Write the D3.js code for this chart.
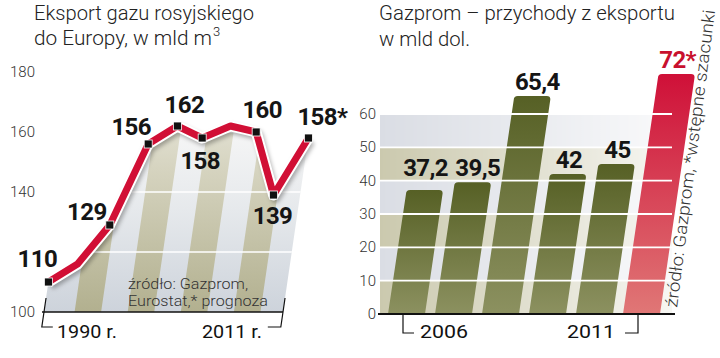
<!DOCTYPE html>
<html><head><meta charset="utf-8">
<script src="https://cdn.jsdelivr.net/npm/d3@7"></script>
<style>
html,body{margin:0;padding:0;background:#fff;}
svg{display:block;}
text{font-family:Roboto,"Noto Sans",sans-serif;}
</style></head><body>
<svg id="chart" width="720" height="358"></svg>
<script>
// ---------- Left chart: gas export to Europe (bn m3) ----------
const exportSlots  = ["1990","1995","2000","2005","2006","2007","2008","2009","2010","2011"];
const exportValues = [110, 116, 129, 156, 162, 158, 162, 160, 139, 158];
const exportLabels = ["110", null, "129", "156", "162", "158", null, "160", "139", "158*"];
const exportTickLabels = [100, 140, 160, 180];
const exportGridValues = [120, 140, 160];
const exportRangeLabels = ["1990 r.", "2011 r."];
const exportTitle = ["Eksport gazu rosyjskiego", "do Europy, w mld m"];
const exportSource = ["źródło: Gazprom,", "Eurostat,* prognoza"];

// ---------- Right chart: Gazprom export revenue (bn USD) ----------
const revenueYears  = ["2006","2007","2008","2009","2010","2011"];
const revenueValues = [37.2, 39.5, 65.4, 42, 45, 72];
const revenueLabels = ["37,2","39,5","65,4","42","45","72*"];
const revenueEstimate = [false,false,false,false,false,true];
const revenueTicks  = [0,10,20,30,40,50,60];
const revenueRangeLabels = ["2006","2011"];
const revenueTitle = ["Gazprom – przychody z eksportu", "w mld dol."];
const revenueSource = "źródło: Gazprom, *wstępne szacunki";

const svg = d3.select("#chart");
const defs = svg.append("defs");
const K = 0.146; // perspective skew

function lg(id, stops, x2, y2){
  const g = defs.append("linearGradient").attr("id", id)
    .attr("x1",0).attr("y1",0).attr("x2",x2).attr("y2",y2);
  stops.forEach(s => g.append("stop").attr("offset", s[0]).attr("stop-color", s[1]).attr("stop-opacity", s[2]==null?1:s[2]));
}
lg("areaGrad", [[0,"#f6f6f6"],[0.45,"#e6e9ec"],[1,"#cdd3db"]], 0, 1);
lg("stripeGrad", [[0,"#efeee6"],[0.4,"#d6d4c0"],[1,"#b2b08f"]], 0, 1);
lg("barGrad", [[0,"#566025"],[1,"#8c9160"]], 0, 1);
lg("redGrad", [[0,"#cf1038"],[1,"#e07776"]], 0, 1);
lg("fadeGrad", [[0,"#fff",1],[0.55,"#fff",0.55],[1,"#fff",0.15]], 1, 0);

const shadow = defs.append("filter").attr("id","shadow").attr("x","-10%").attr("y","-10%").attr("width","130%").attr("height","140%");
shadow.append("feGaussianBlur").attr("stdDeviation", 2.2);

// ================= LEFT =================
const xL = d3.scalePoint().domain(exportSlots).range([44, 283]);
const yL = d3.scaleLinear().domain([100, 180]).range([312, 72]);
const baseL = yL(100);
const sxL = (slot, v) => xL(slot) + K * (baseL - yL(v));

const pts = exportSlots.map((s, i) => ({slot: s, v: exportValues[i], label: exportLabels[i],
  x: sxL(s, exportValues[i]), y: yL(exportValues[i])}));

const lineGen = d3.line().x(d => d.x).y(d => d.y).curve(d3.curveLinear);
const first = exportSlots[0], last = exportSlots[exportSlots.length - 1];
const areaPath = lineGen(pts) + `L${xL(last)},${baseL}L${xL(first)},${baseL}Z`;

const cp = defs.append("clipPath").attr("id", "areaClip");
cp.append("path").attr("d", areaPath);

const gL = svg.append("g");
gL.append("path").attr("d", areaPath).attr("fill", "url(#areaGrad)");

// slanted stripes
const stripes = gL.append("g").attr("clip-path", "url(#areaClip)");
const step = xL.step();
const stripeIdx = [1, 3, 5, 7];
stripes.selectAll("path").data(stripeIdx).join("path")
  .attr("d", i => {
    const x0 = xL(exportSlots[i]) + 4, x1 = x0 + step, top = yL(180), h = baseL - top;
    return `M${x0},${baseL}L${x1},${baseL}L${x1 + K*h},${top}L${x0 + K*h},${top}Z`;
  })
  .attr("fill", "url(#stripeGrad)");

// gridlines
stripes.selectAll("line").data(exportGridValues).join("line")
  .attr("x1", 30).attr("x2", 320)
  .attr("y1", d => yL(d)).attr("y2", d => yL(d))
  .attr("stroke", "#fff").attr("stroke-width", 1.6);

// y tick labels
gL.selectAll("text.ytick").data(exportTickLabels).join("text")
  .attr("class", "ytick")
  .attr("x", 35).attr("y", d => yL(d) + 5)
  .attr("text-anchor", "end")
  .attr("font-size", 15).attr("font-weight", 300).attr("fill", "#333")
  .text(d => d);

// baseline
gL.append("line").attr("x1", xL(first) - 2).attr("x2", xL(last))
  .attr("y1", baseL).attr("y2", baseL).attr("stroke", "#111").attr("stroke-width", 1.6);

// brackets
const bY0 = baseL - 14, bY1 = baseL + 15;
const bx = (slot, y) => xL(slot) + K * (baseL - y);
gL.append("path")
  .attr("d", `M${bx(first,bY0)},${bY0}L${bx(first,bY1)},${bY1}L${bx(first,bY1)+11},${bY1}`)
  .attr("fill", "none").attr("stroke", "#111").attr("stroke-width", 1.2);
gL.append("path")
  .attr("d", `M${bx(last,bY0)},${bY0}L${bx(last,bY1)},${bY1}L${bx(last,bY1)-13},${bY1}`)
  .attr("fill", "none").attr("stroke", "#111").attr("stroke-width", 1.2);
gL.append("text").attr("x", 57).attr("y", 338).attr("font-size", 19).attr("fill", "#111")
  .attr("textLength", 60).attr("lengthAdjust", "spacingAndGlyphs").text(exportRangeLabels[0]);
gL.append("text").attr("x", 202).attr("y", 338).attr("font-size", 19).attr("fill", "#111")
  .attr("textLength", 60).attr("lengthAdjust", "spacingAndGlyphs").text(exportRangeLabels[1]);

// source
gL.append("text").attr("x", 128).attr("y", 289).attr("font-size", 15).attr("font-weight", 300).attr("fill", "#333")
  .attr("textLength", 120).attr("lengthAdjust", "spacingAndGlyphs").text(exportSource[0]);
gL.append("text").attr("x", 128).attr("y", 306).attr("font-size", 15).attr("font-weight", 300).attr("fill", "#333")
  .attr("textLength", 140).attr("lengthAdjust", "spacingAndGlyphs").text(exportSource[1]);

// line with shadow, white halo and red core
const ld = lineGen(pts);
gL.append("path").attr("d", ld).attr("fill", "none").attr("stroke", "#000").attr("stroke-opacity", 0.3)
  .attr("stroke-width", 10).attr("stroke-linejoin", "round").attr("transform", "translate(2,3)").attr("filter", "url(#shadow)");
gL.append("path").attr("d", ld).attr("fill", "none").attr("stroke", "#fff").attr("stroke-width", 11).attr("stroke-linejoin", "round");
gL.append("path").attr("d", ld).attr("fill", "none").attr("stroke", "#d10f35").attr("stroke-width", 7).attr("stroke-linejoin", "round");

// markers
const marked = pts.filter(d => d.label);
gL.selectAll("rect.mk").data(marked).join("rect").attr("class", "mk")
  .attr("x", d => d.x - 4).attr("y", d => d.y - 4).attr("width", 8).attr("height", 8)
  .attr("fill", "#111").attr("stroke", "#fff").attr("stroke-width", 0.8);

// value labels (placement per point)
const place = {"110":[-11,-15,"middle"], "129":[-23,-5,"middle"], "156":[-17,-9,"middle"],
  "162":[7,-13,"middle"], "158":[-2,31,"middle"], "160":[6,-14,"middle"], "139":[-1,29,"middle"], "158*":[-11,-13,"start"]};
gL.selectAll("text.val").data(marked).join("text").attr("class", "val")
  .attr("x", d => d.x + place[d.label][0]).attr("y", d => d.y + place[d.label][1])
  .attr("text-anchor", d => place[d.label][2])
  .attr("font-size", 24).attr("font-weight", 700).attr("fill", "#151515").attr("letter-spacing", -0.6)
  .text(d => d.label);

// title
gL.append("text").attr("x", 34).attr("y", 20).attr("font-size", 21).attr("font-weight", 300).attr("fill", "#222")
  .attr("textLength", 220).attr("lengthAdjust", "spacingAndGlyphs").text(exportTitle[0]);
const t2 = gL.append("text").attr("x", 34).attr("y", 45).attr("font-size", 21).attr("font-weight", 300).attr("fill", "#222");
t2.append("tspan").attr("textLength", 178).attr("lengthAdjust", "spacingAndGlyphs").text(exportTitle[1]);
t2.append("tspan").attr("dx", 1).attr("dy", -9).attr("font-size", 13).text("3");

// ================= RIGHT =================
const xR = d3.scaleBand().domain(revenueYears).range([388, 660]).paddingInner(10/47).paddingOuter(0);
const yR = d3.scaleLinear().domain([0, 60]).range([314, 114]);
const baseR = yR(0);
const gR = svg.append("g");

// background bands
const mask = defs.append("mask").attr("id", "fadeMask");
mask.append("rect").attr("x", 380).attr("y", yR(60)).attr("width", 292).attr("height", baseR - yR(60)).attr("fill", "url(#fadeGrad)");
const bands = revenueTicks.slice(0, -1);
gR.append("g").attr("mask", "url(#fadeMask)")
  .selectAll("rect").data(bands).join("rect")
  .attr("x", 380).attr("width", 292)
  .attr("y", d => yR(d + 10)).attr("height", d => yR(d) - yR(d + 10))
  .attr("fill", (d, i) => i % 2 === 0 ? "#cbc9ae" : "#dadde4");

// bars
const bw = xR.bandwidth();
function barPath(x0, top){
  const h = baseR - top, r = 4, dx = K * h;
  return `M${x0},${baseR}L${x0 + bw},${baseR}L${x0 + bw + dx - K*r},${top + r}`
       + `Q${x0 + bw + dx},${top} ${x0 + bw + dx - r},${top}`
       + `L${x0 + dx + r},${top}Q${x0 + dx},${top} ${x0 + dx - K*r*0.2},${top + r}Z`;
}
const bars = revenueYears.map((yr, i) => ({yr, v: revenueValues[i], label: revenueLabels[i], est: revenueEstimate[i]}));
gR.selectAll("path.bar").data(bars).join("path").attr("class", "bar")
  .attr("d", d => barPath(xR(d.yr), yR(d.v)))
  .attr("fill", d => d.est ? "url(#redGrad)" : "url(#barGrad)");

// gridlines over bars
gR.selectAll("line.grid").data(revenueTicks.slice(1)).join("line").attr("class", "grid")
  .attr("x1", 380).attr("x2", 672).attr("y1", d => yR(d)).attr("y2", d => yR(d))
  .attr("stroke", "#fff").attr("stroke-width", 1.8);

// baseline
gR.append("line").attr("x1", 378).attr("x2", 675).attr("y1", baseR).attr("y2", baseR)
  .attr("stroke", "#111").attr("stroke-width", 2);

// y ticks
gR.selectAll("text.ytick").data(revenueTicks).join("text").attr("class", "ytick")
  .attr("x", 376).attr("y", d => yR(d) + 5).attr("text-anchor", "end")
  .attr("font-size", 15).attr("font-weight", 300).attr("fill", "#333").text(d => d);

// value labels (first two share one baseline, as in the original)
gR.selectAll("text.val").data(bars).join("text").attr("class", "val")
  .attr("x", (d, i) => xR(d.yr) + bw/2 + K*(baseR - yR(d.v)) + (i === 1 || i === 2 ? 5 : 1))
  .attr("y", (d, i) => yR(i === 0 ? bars[1].v : d.v) - 6)
  .attr("text-anchor", "middle").attr("font-size", 24).attr("font-weight", 700).attr("letter-spacing", -0.6)
  .attr("fill", d => d.est ? "#c8102e" : "#151515")
  .text(d => d.label);

// brackets
const fy = revenueYears[0], ly = revenueYears[revenueYears.length - 1];
gR.append("path").attr("d", `M${xR(fy)+15},${baseR+1}L${xR(fy)+15},${baseR+19}L${xR(fy)+26},${baseR+19}`)
  .attr("fill", "none").attr("stroke", "#111").attr("stroke-width", 1.2);
gR.append("path").attr("d", `M${xR(ly)+15},${baseR+1}L${xR(ly)+15},${baseR+19}L${xR(ly)+2},${baseR+19}`)
  .attr("fill", "none").attr("stroke", "#111").attr("stroke-width", 1.2);
gR.append("text").attr("x", 420).attr("y", 338).attr("font-size", 19).attr("fill", "#111")
  .attr("textLength", 48).attr("lengthAdjust", "spacingAndGlyphs").text(revenueRangeLabels[0]);
gR.append("text").attr("x", 567).attr("y", 338).attr("font-size", 19).attr("fill", "#111")
  .attr("textLength", 48).attr("lengthAdjust", "spacingAndGlyphs").text(revenueRangeLabels[1]);

// title
gR.append("text").attr("x", 379).attr("y", 20).attr("font-size", 21).attr("font-weight", 300).attr("fill", "#222")
  .attr("textLength", 296).attr("lengthAdjust", "spacingAndGlyphs").text(revenueTitle[0]);
gR.append("text").attr("x", 379).attr("y", 46).attr("font-size", 21).attr("font-weight", 300).attr("fill", "#222")
  .attr("textLength", 91).attr("lengthAdjust", "spacingAndGlyphs").text(revenueTitle[1]);

// rotated source
gR.append("text").attr("transform", "translate(677,308) rotate(-82.7)")
  .attr("font-size", 17).attr("font-weight", 300).attr("fill", "#333")
  .attr("textLength", 300).attr("lengthAdjust", "spacingAndGlyphs").text(revenueSource);
</script>
</body></html>
